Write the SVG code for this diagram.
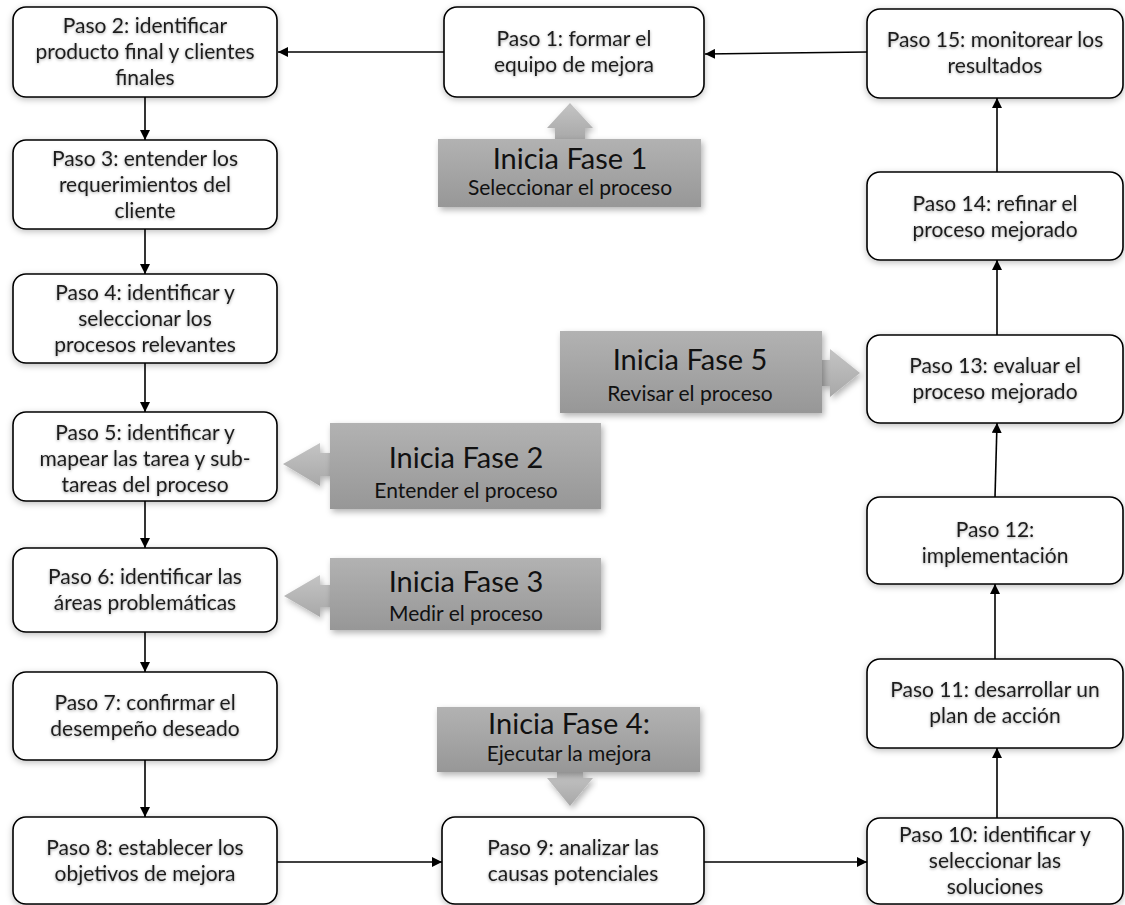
<svg xmlns="http://www.w3.org/2000/svg" width="1125" height="905" viewBox="0 0 1125 905">
<defs>
<style>
.box{fill:#fff;stroke:#000;stroke-width:1.6;filter:url(#bsh)}
.t{font-family:Lato,"Open Sans","Liberation Sans",sans-serif;font-size:21px;fill:#1e1e1e;text-anchor:middle;filter:url(#tsh)}
.h{font-family:Lato,"Open Sans","Liberation Sans",sans-serif;font-size:29px;fill:#111;text-anchor:middle}
.s{font-family:Lato,"Open Sans","Liberation Sans",sans-serif;font-size:21px;fill:#111;text-anchor:middle}
.ph{fill:url(#pg);filter:url(#psh)}
.pa{fill:url(#ag);filter:url(#psh)}
.c{stroke:#000;stroke-width:1.6;fill:none;marker-end:url(#ah)}
</style>
<linearGradient id="pg" x1="0" y1="0" x2="0" y2="1"><stop offset="0" stop-color="#b2b2b2"/><stop offset="1" stop-color="#979797"/></linearGradient>
<linearGradient id="ag" x1="0" y1="0" x2="0" y2="1"><stop offset="0" stop-color="#c4c4c4"/><stop offset="1" stop-color="#a8a8a8"/></linearGradient>
<filter id="bsh" x="-10%" y="-10%" width="120%" height="130%"><feDropShadow dx="0" dy="2" stdDeviation="3" flood-color="#000" flood-opacity="0.25"/></filter>
<filter id="psh" x="-10%" y="-10%" width="120%" height="130%"><feDropShadow dx="2" dy="3" stdDeviation="3" flood-color="#000" flood-opacity="0.3"/></filter>
<filter id="tsh" x="-5%" y="-20%" width="110%" height="150%"><feDropShadow dx="0" dy="1" stdDeviation="1.5" flood-color="#000" flood-opacity="0.35"/></filter>
<marker id="ah" viewBox="0 0 10 10" refX="10" refY="5" markerWidth="10" markerHeight="10" markerUnits="userSpaceOnUse" orient="auto"><path d="M0,0 L10,5 L0,10 Z" fill="#000"/></marker>
</defs>
<rect width="1125" height="905" fill="#fff"/>

<g id="connectors">
<line class="c" x1="867" y1="52" x2="705" y2="54"/>
<line class="c" x1="444" y1="52" x2="278" y2="52"/>
<line class="c" x1="145" y1="97" x2="145" y2="140"/>
<line class="c" x1="145" y1="229" x2="145" y2="274"/>
<line class="c" x1="145" y1="363" x2="145" y2="412"/>
<line class="c" x1="145" y1="501" x2="145" y2="548"/>
<line class="c" x1="145" y1="632" x2="145" y2="672"/>
<line class="c" x1="145" y1="760" x2="145" y2="817"/>
<line class="c" x1="277" y1="862" x2="442" y2="862"/>
<line class="c" x1="704" y1="862" x2="867" y2="862"/>
<line class="c" x1="997" y1="818" x2="997" y2="748"/>
<line class="c" x1="995" y1="659" x2="995" y2="584"/>
<line class="c" x1="995" y1="497" x2="997" y2="423"/>
<line class="c" x1="997" y1="335" x2="997" y2="260"/>
<line class="c" x1="997" y1="172" x2="997" y2="98"/>
</g>

<g id="fase1">
<path class="pa" d="M555,140 V128 H547 L570,103 L593,128 H585 V140 Z"/>
<rect class="ph" x="438" y="139" width="263" height="68"/>
<text class="h" x="570" y="169">Inicia Fase 1</text>
<text class="s" x="570" y="195">Seleccionar el proceso</text>
</g>
<g id="fase2">
<path class="pa" d="M331,453 H320 V443 L283,464 L320,486 V476 H331 Z"/>
<rect class="ph" x="330" y="423" width="271" height="86"/>
<text class="h" x="466" y="468">Inicia Fase 2</text>
<text class="s" x="466" y="498">Entender el proceso</text>
</g>
<g id="fase3">
<path class="pa" d="M331,585 H320 V575 L284,596 L320,617 V607 H331 Z"/>
<rect class="ph" x="330" y="558" width="271" height="72"/>
<text class="h" x="466" y="592">Inicia Fase 3</text>
<text class="s" x="466" y="621">Medir el proceso</text>
</g>
<g id="fase4">
<path class="pa" d="M557,771 V778 H547 L570,806 L593,778 H583 V771 Z"/>
<rect class="ph" x="437" y="707" width="263" height="65"/>
<text class="h" x="569" y="734">Inicia Fase 4:</text>
<text class="s" x="569" y="761">Ejecutar la mejora</text>
</g>
<g id="fase5">
<path class="pa" d="M821,360 H830 V349 L860,373 L830,397 V386 H821 Z"/>
<rect class="ph" x="560" y="331" width="262" height="82"/>
<text class="h" x="690" y="370">Inicia Fase 5</text>
<text class="s" x="690" y="401">Revisar el proceso</text>
</g>

<g id="paso1"><rect class="box" x="444" y="7" width="260" height="90" rx="13"/>
<text class="t" x="574" y="46">Paso 1: formar el</text><text class="t" x="574" y="72">equipo de mejora</text></g>
<g id="paso2"><rect class="box" x="13" y="7" width="264" height="90" rx="13"/>
<text class="t" x="145" y="33">Paso 2: identificar</text><text class="t" x="145" y="59">producto final y clientes</text><text class="t" x="145" y="85">finales</text></g>
<g id="paso3"><rect class="box" x="13" y="140" width="264" height="89" rx="13"/>
<text class="t" x="145" y="166">Paso 3: entender los</text><text class="t" x="145" y="192">requerimientos del</text><text class="t" x="145" y="218">cliente</text></g>
<g id="paso4"><rect class="box" x="13" y="274" width="264" height="89" rx="13"/>
<text class="t" x="145" y="300">Paso 4: identificar y</text><text class="t" x="145" y="326">seleccionar los</text><text class="t" x="145" y="352">procesos relevantes</text></g>
<g id="paso5"><rect class="box" x="13" y="412" width="264" height="89" rx="13"/>
<text class="t" x="145" y="440">Paso 5: identificar y</text><text class="t" x="145" y="466">mapear las tarea y sub-</text><text class="t" x="145" y="492">tareas del proceso</text></g>
<g id="paso6"><rect class="box" x="13" y="548" width="264" height="84" rx="13"/>
<text class="t" x="145" y="584">Paso 6: identificar las</text><text class="t" x="145" y="610">áreas problemáticas</text></g>
<g id="paso7"><rect class="box" x="13" y="672" width="264" height="88" rx="13"/>
<text class="t" x="145" y="710">Paso 7: confirmar el</text><text class="t" x="145" y="736">desempeño deseado</text></g>
<g id="paso8"><rect class="box" x="13" y="817" width="264" height="87" rx="13"/>
<text class="t" x="145" y="855">Paso 8: establecer los</text><text class="t" x="145" y="881">objetivos de mejora</text></g>
<g id="paso9"><rect class="box" x="442" y="817" width="262" height="87" rx="13"/>
<text class="t" x="573" y="855">Paso 9: analizar las</text><text class="t" x="573" y="881">causas potenciales</text></g>
<g id="paso10"><rect class="box" x="867" y="818" width="256" height="86" rx="13"/>
<text class="t" x="995" y="842">Paso 10: identificar y</text><text class="t" x="995" y="868">seleccionar las</text><text class="t" x="995" y="894">soluciones</text></g>
<g id="paso11"><rect class="box" x="867" y="659" width="256" height="89" rx="13"/>
<text class="t" x="995" y="697">Paso 11: desarrollar un</text><text class="t" x="995" y="723">plan de acción</text></g>
<g id="paso12"><rect class="box" x="867" y="497" width="256" height="87" rx="13"/>
<text class="t" x="995" y="537">Paso 12:</text><text class="t" x="995" y="563">implementación</text></g>
<g id="paso13"><rect class="box" x="867" y="335" width="256" height="88" rx="13"/>
<text class="t" x="995" y="373">Paso 13: evaluar el</text><text class="t" x="995" y="399">proceso mejorado</text></g>
<g id="paso14"><rect class="box" x="867" y="172" width="256" height="88" rx="13"/>
<text class="t" x="995" y="211">Paso 14: refinar el</text><text class="t" x="995" y="237">proceso mejorado</text></g>
<g id="paso15"><rect class="box" x="867" y="9" width="256" height="89" rx="13"/>
<text class="t" x="995" y="47">Paso 15: monitorear los</text><text class="t" x="995" y="73">resultados</text></g>
</svg>
